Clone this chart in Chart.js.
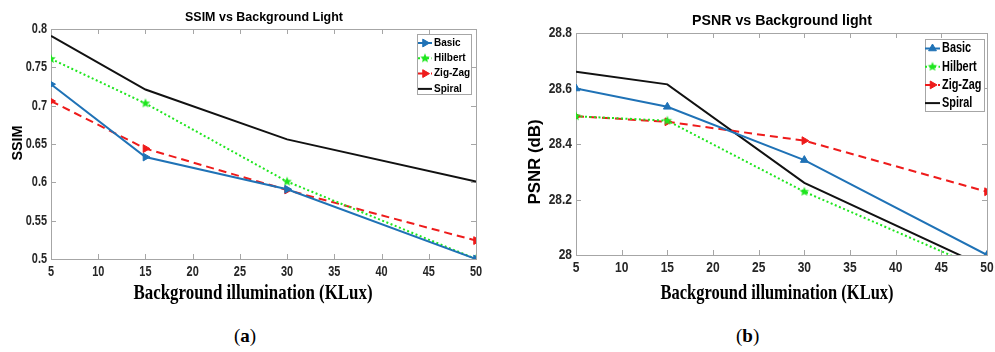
<!DOCTYPE html>
<html>
<head>
<meta charset="utf-8">
<script src="https://cdn.jsdelivr.net/npm/chart.js@4.4.1/dist/chart.umd.min.js"></script>
<style>
  body { margin: 0; background: #fff; }
  #wrap { position: relative; width: 995px; height: 352px; overflow: hidden; background: #fff; }
  .panel { position: absolute; top: 0; height: 310px; }
  .sub { position: absolute; top: 325px; font: 19px 'Liberation Serif', 'Times New Roman', serif; color: #000; }
</style>
</head>
<body>
<div id="wrap">
  <div class="panel" style="left:0;width:500px"><canvas id="ssim" width="500" height="310"></canvas></div>
  <div class="panel" style="left:500px;width:495px"><canvas id="psnr" width="495" height="310"></canvas></div>
  <div class="sub" style="left:234px">(<b>a</b>)</div>
  <div class="sub" style="left:736px">(<b>b</b>)</div>
</div>
<script>
// data
const illumination = [5, 15, 30, 50];
const xTicks = [5, 10, 15, 20, 25, 30, 35, 40, 45, 50];

const ssimBasic   = [0.728, 0.633, 0.591, 0.500];
const ssimHilbert = [0.761, 0.703, 0.601, 0.500];
const ssimZigZag  = [0.706, 0.644, 0.590, 0.524];
const ssimSpiral  = [0.791, 0.721, 0.656, 0.601];
const ssimTicks   = [0.5, 0.55, 0.6, 0.65, 0.7, 0.75, 0.8];

const psnrBasic   = [28.60, 28.534, 28.342, 28.00];
const psnrHilbert = [28.50, 28.484, 28.228, 27.942];
const psnrZigZag  = [28.50, 28.480, 28.412, 28.228];
const psnrSpiral  = [28.66, 28.615, 28.260, 27.954];
const psnrTicks   = [28, 28.2, 28.4, 28.6, 28.8];

const BLUE = '#1f72b6', GREEN = '#1ee61e', RED = '#ee1b1b', BLACK = '#111';
const sans = "'Liberation Sans', Arial, sans-serif";
const serif = "'Liberation Serif', 'Times New Roman', serif";

function starImage(color, r) {
  const c = document.createElement('canvas');
  c.width = c.height = 2 * r + 2;
  const g = c.getContext('2d');
  g.fillStyle = color;
  g.beginPath();
  for (let i = 0; i < 10; i++) {
    const rad = i % 2 ? r * 0.45 : r;
    const ang = -Math.PI / 2 + i * Math.PI / 5;
    g.lineTo(r + 1 + rad * Math.cos(ang), r + 1 + rad * Math.sin(ang));
  }
  g.closePath();
  g.fill();
  return c;
}
const star = starImage(GREEN, 5);

function series(label, values, color, extra) {
  return Object.assign({
    label: label,
    data: illumination.map((x, i) => ({ x: x, y: values[i] })),
    borderColor: color, backgroundColor: color,
    pointBackgroundColor: color, pointBorderColor: color,
    borderWidth: 2, pointRadius: 0, pointBorderWidth: 1, tension: 0, fill: false
  }, extra);
}

// text squeezed horizontally like the source figure
function drawText(ctx, t) {
  ctx.save();
  ctx.font = t.font;
  ctx.fillStyle = t.color || '#000';
  ctx.textAlign = t.align || 'center';
  ctx.textBaseline = 'middle';
  ctx.translate(t.x, t.y);
  if (t.rotate) ctx.rotate(-Math.PI / 2);
  const w = ctx.measureText(t.text).width;
  const sx = t.width ? t.width / w : (t.sx || 1);
  ctx.scale(sx, 1);
  ctx.fillText(t.text, 0, 0);
  ctx.restore();
}

// box, inner ticks, tick labels, titles and legend (MATLAB look)
const frame = {
  id: 'frame',
  beforeDatasetsDraw(chart, args, o) {
    const { ctx, chartArea: a, scales } = chart;
    const L = o.tick;
    ctx.save();
    ctx.strokeStyle = '#a6a6a6';
    ctx.lineWidth = 1;
    ctx.beginPath();
    scales.x.ticks.forEach(t => {
      const px = Math.round(scales.x.getPixelForValue(t.value)) + 0.5;
      ctx.moveTo(px, a.bottom); ctx.lineTo(px, a.bottom - L);
      ctx.moveTo(px, a.top); ctx.lineTo(px, a.top + L);
    });
    scales.y.ticks.forEach(t => {
      const py = Math.round(scales.y.getPixelForValue(t.value)) + 0.5;
      ctx.moveTo(a.left, py); ctx.lineTo(a.left + L, py);
      ctx.moveTo(a.right, py); ctx.lineTo(a.right - L, py);
    });
    ctx.stroke();
    ctx.strokeRect(Math.round(a.left) + 0.5, Math.round(a.top) + 0.5, Math.round(a.width), Math.round(a.height));
    ctx.restore();
  },
  afterDraw(chart, args, o) {
    const { ctx, chartArea: a, scales } = chart;
    const tf = o.tickFont;
    scales.x.ticks.forEach(t => drawText(ctx, { text: String(t.label), x: scales.x.getPixelForValue(t.value), y: a.bottom + o.xLabelDy, font: tf, sx: o.tickSx, color: '#262626' }));
    scales.y.ticks.forEach(t => drawText(ctx, { text: String(t.label), x: a.left - o.yLabelDx, y: scales.y.getPixelForValue(t.value), font: tf, sx: o.tickSx, align: 'right', color: '#262626' }));
    o.texts.forEach(t => drawText(ctx, t));

    const lg = o.legend;
    ctx.save();
    ctx.fillStyle = '#fff';
    ctx.fillRect(lg.x, lg.y, lg.w, lg.h);
    ctx.strokeStyle = '#a6a6a6';
    ctx.lineWidth = 1;
    ctx.strokeRect(lg.x + 0.5, lg.y + 0.5, lg.w, lg.h);
    chart.data.datasets.forEach((ds, i) => {
      const y = lg.row0 + i * lg.rowH;
      ctx.save();
      ctx.strokeStyle = ds.borderColor;
      ctx.lineWidth = ds.borderWidth;
      ctx.setLineDash(ds.borderDash || []);
      ctx.beginPath();
      ctx.moveTo(lg.x0, y); ctx.lineTo(lg.x1, y);
      ctx.stroke();
      ctx.setLineDash([]);
      if (ds.pointRadius > 0 && Chart.helpers && Chart.helpers.drawPoint) {
        ctx.fillStyle = ds.pointBackgroundColor;
        ctx.strokeStyle = ds.pointBorderColor;
        ctx.lineWidth = 1;
        Chart.helpers.drawPoint(ctx, { pointStyle: ds.pointStyle, radius: ds.pointRadius, rotation: ds.pointRotation || 0, borderWidth: 1 }, (lg.x0 + lg.x1) / 2, y);
      }
      ctx.restore();
      drawText(ctx, { text: ds.label, x: lg.tx, y: y, font: lg.font, align: 'left', sx: lg.sx });
    });
    ctx.restore();
  }
};

function options(c) {
  return {
    responsive: false,
    animation: false,
    layout: { padding: { left: 0, right: c.padRight, top: c.top, bottom: 0 } },
    plugins: {
      legend: { display: false },
      tooltip: { enabled: false },
      frame: c.frame
    },
    scales: {
      x: {
        type: 'linear', min: 5, max: 50,
        afterBuildTicks: s => { s.ticks = xTicks.map(v => ({ value: v })); },
        afterFit: s => { s.height = c.xHeight; },
        grid: { display: false }, border: { display: false },
        ticks: { display: false, autoSkip: false }
      },
      y: {
        type: 'linear', min: c.yTicks[0], max: c.yTicks[c.yTicks.length - 1],
        afterBuildTicks: s => { s.ticks = c.yTicks.map(v => ({ value: v })); },
        afterFit: s => { s.width = c.yWidth; },
        grid: { display: false }, border: { display: false },
        ticks: { display: false, autoSkip: false, callback: c.yFormat }
      }
    }
  };
}

new Chart(document.getElementById('ssim'), {
  type: 'line',
  plugins: [frame],
  data: {
    datasets: [
      series('Basic', ssimBasic, BLUE, { pointStyle: 'triangle', pointRotation: 90, pointRadius: 4.5 }),
      series('Hilbert', ssimHilbert, GREEN, { pointStyle: star, pointRadius: 5, borderDash: [2, 2.5] }),
      series('Zig-Zag', ssimZigZag, RED, { pointStyle: 'triangle', pointRotation: 90, pointRadius: 4.5, borderDash: [8, 5] }),
      series('Spiral', ssimSpiral, BLACK, {})
    ]
  },
  options: options({
    padRight: 24, top: 29, xHeight: 51, yWidth: 51, yTicks: ssimTicks,
    yFormat: v => String(+v.toFixed(2)),
    frame: {
      tick: 5,
      tickFont: 'bold 14px ' + sans, tickSx: 0.78, xLabelDy: 13, yLabelDx: 4,
      texts: [
        { text: 'SSIM vs Background Light', x: 264, y: 17, font: 'bold 13px ' + sans, width: 158 },
        { text: 'SSIM', x: 18, y: 143, font: 'bold 14px ' + sans, rotate: true, width: 35 },
        { text: 'Background illumination (KLux)', x: 253, y: 294, font: 'bold 21px ' + serif, width: 239 }
      ],
      legend: { x: 417, y: 34, w: 54, h: 60, row0: 43, rowH: 15.3, x0: 418, x1: 432, tx: 434, font: 'bold 10px ' + sans, sx: 1 }
    }
  })
});

new Chart(document.getElementById('psnr'), {
  type: 'line',
  plugins: [frame],
  data: {
    datasets: [
      series('Basic', psnrBasic, BLUE, { pointStyle: 'triangle', pointRadius: 4.5 }),
      series('Hilbert', psnrHilbert, GREEN, { pointStyle: star, pointRadius: 5, borderDash: [2, 2.5] }),
      series('Zig-Zag', psnrZigZag, RED, { pointStyle: 'triangle', pointRotation: 90, pointRadius: 4.5, borderDash: [8, 5] }),
      series('Spiral', psnrSpiral, BLACK, {})
    ]
  },
  options: options({
    padRight: 8, top: 33, xHeight: 55, yWidth: 76, yTicks: psnrTicks,
    yFormat: v => String(+v.toFixed(1)),
    frame: {
      tick: 5,
      tickFont: 'bold 15px ' + sans, tickSx: 0.8, xLabelDy: 13, yLabelDx: 4,
      texts: [
        { text: 'PSNR vs Background light', x: 282, y: 21, font: 'bold 14px ' + sans, width: 180 },
        { text: 'PSNR (dB)', x: 35, y: 162, font: 'bold 17px ' + sans, rotate: true, width: 85 },
        { text: 'Background illumination (KLux)', x: 277, y: 294, font: 'bold 21px ' + serif, width: 233 }
      ],
      legend: { x: 425, y: 39, w: 59, h: 72, row0: 48.5, rowH: 18.2, x0: 425, x1: 440, tx: 442, font: 'bold 14px ' + sans, sx: 0.78 }
    }
  })
});
</script>
</body>
</html>
